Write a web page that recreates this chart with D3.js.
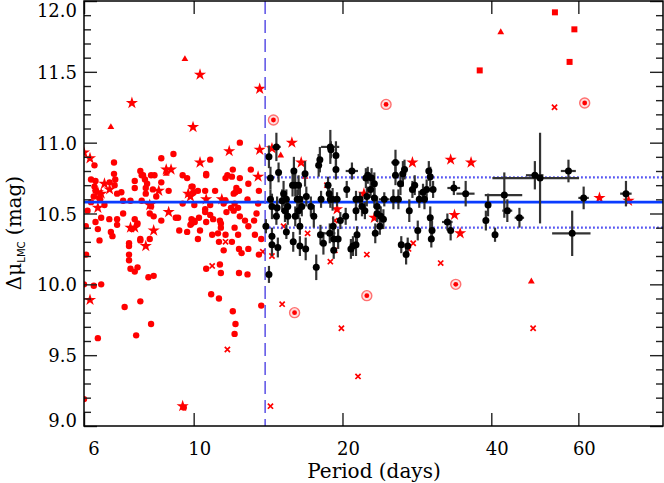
<!DOCTYPE html>
<html><head><meta charset="utf-8">
<script src="https://cdn.jsdelivr.net/npm/d3@7"></script>
<style>body{margin:0;background:#fff}svg{display:block}</style>
</head><body><svg id="c" width="664" height="483"></svg>
<script>
// ---------------- DATA ----------------
const periodTicks = [6, 10, 20, 40, 60];
const magTicks = [9.0, 9.5, 10.0, 10.5, 11.0, 11.5, 12.0];
const meanMag = 10.58;
const bandHi = 10.755;
const bandLo = 10.40;
const periodCut = 13.95;

// red filled dots [period, mag]
const redDots = [
[12.4,11.0],[10.8,10.88],[9.1,10.92],[8.6,10.89],[6.3,10.84],[6.9,10.86],[10.6,10.78],[12.0,10.81],[13.05,10.81],
[6.2,10.74],[6.33,10.73],[6.76,10.72],[6.9,10.78],[6.94,10.74],[6.92,10.70],[6.3,10.69],[6.33,10.66],[6.28,10.62],[6.44,10.61],[6.47,10.60],[6.2,10.58],[6.6,10.56],[7.0,10.64],[7.14,10.65],[7.2,10.59],[7.45,10.59],[7.6,10.73],[7.8,10.80],[7.85,10.77],[7.9,10.77],[7.97,10.74],[8.05,10.71],[8.2,10.77],[8.33,10.77],[7.6,10.68],[8.0,10.68],[8.0,10.64],[8.27,10.67],[8.6,10.72],[8.9,10.66],[8.4,10.62],[7.85,10.59],[8.2,10.55],
[6.1,10.52],[6.05,10.41],[6.33,10.44],[6.5,10.47],[6.75,10.46],[7.0,10.46],[7.2,10.50],[6.4,10.39],[6.8,10.37],[6.85,10.34],[6.45,10.31],[7.0,10.42],[7.6,10.46],[7.7,10.43],[7.5,10.39],[7.4,10.29],[7.4,10.27],[7.8,10.32],[7.8,10.31],[8.15,10.32],[8.15,10.50],[8.3,10.48],[8.6,10.45],[9.2,10.47],[6.06,10.21],[7.4,10.21],[7.4,10.17],[7.45,10.11],[7.7,10.12],[7.6,10.09],[8.1,10.05],[8.3,10.06],[6.0,10.0],[6.28,9.99],[6.5,10.0],[7.8,9.88],[7.25,9.84],[8.2,9.72],[7.65,9.64],[6.4,9.62],[6.0,9.19],[9.55,9.13],
[9.5,10.77],[9.7,10.75],[10.6,10.77],[11.7,10.77],[11.6,10.75],[11.95,10.76],[12.4,10.75],[9.9,10.69],[9.95,10.69],[12.9,10.71],[11.05,10.66],[10.55,10.66],[10.2,10.66],[10.0,10.65],[12.2,10.68],[12.15,10.65],[12.05,10.64],[12.35,10.66],[13.55,10.66],[11.6,10.59],[12.1,10.57],[12.85,10.60],[9.5,10.57],[10.03,10.56],[10.8,10.56],[11.5,10.57],[13.5,10.57],
[10.55,10.53],[10.55,10.51],[11.9,10.54],[12.05,10.52],[12.3,10.54],[11.65,10.51],[13.4,10.50],[10.8,10.49],[12.4,10.48],[9.3,10.47],[9.9,10.46],[10.0,10.45],[10.05,10.44],[9.9,10.43],[9.85,10.42],[10.25,10.47],[10.6,10.44],[10.95,10.46],[11.3,10.45],[11.35,10.43],[11.35,10.40],[12.7,10.45],[13.25,10.45],[12.9,10.41],[12.1,10.40],[9.35,10.38],[9.7,10.37],[10.3,10.38],[10.9,10.35],[11.2,10.36],[11.6,10.35],[12.3,10.35],[13.3,10.35],[13.7,10.32],[10.2,10.32],[11.25,10.30],[11.95,10.30],[11.5,10.24],[12.35,10.25],[12.5,10.22],[12.9,10.25],[13.55,10.21],[11.3,10.14],[10.6,10.11],[11.35,10.08],[12.35,10.08],[12.85,10.07],[10.85,9.93],[11.25,9.90],[13.7,9.85],[12.0,9.81],[12.15,9.72],[12.1,9.65]
];
// red stars
const redStars = [
[6.0,10.93],[6.17,10.89],[6.6,10.71],[6.76,10.67],[6.4,10.65],[6.5,10.64],[6.4,10.54],[8.15,10.56],[7.45,10.40],[7.6,10.40],[8.3,10.38],[8.0,10.27],[8.9,10.51],[8.5,10.66],[8.8,10.81],[9.0,10.81],[6.17,9.89],[9.5,9.14],
[11.8,10.94],[13.6,10.95],[10.3,10.86],[13.5,10.76],[9.75,10.64],[9.85,10.62],[10.6,10.60],[11.4,10.60],
[10.3,11.48],[7.5,11.28],[13.6,11.38],[9.97,11.11],[15.8,11.0],[14.4,10.96],[16.5,10.86],[19.5,10.53],[22.1,10.64],[27.7,10.86],[33.1,10.88],[36.4,10.86],[23.2,10.47],[33.7,10.49],[34.6,10.36],[66.2,10.61],[75.8,10.59]
];
// red triangles
const redTriangles = [[6.8,11.11],[9.6,11.59],[8.8,10.78],[15.0,10.91],[16.8,10.76],[41.8,11.78],[48.2,10.02]];
// red squares
const redSquares = [[53.8,11.92],[58.9,11.80],[57.6,11.57],[37.9,11.51]];
// red crosses
const redCrosses = [
[11.6,10.30],[10.9,10.13],[13.8,10.23],[11.7,9.54],[14.3,9.14],[18.6,10.70],[19.3,10.45],[15.2,10.41],[17.0,10.36],[19.3,10.24],[18.9,10.16],[14.4,10.20],[15.1,9.86],[19.9,9.69],[21.5,9.35],[31.6,10.15],[27.8,10.29],[27.2,10.25],[22.4,10.21],[53.7,11.25],[48.6,9.69]
];
// red circled dots
const redCircled = [[14.5,11.16],[24.5,11.27],[61.8,11.28],[16.0,9.80],[22.4,9.92],[33.9,10.0]];

// black points with errors [period, mag, magErr, periodErr]
const blackPts = [
[14.2,10.07,0.06,0],[14.0,10.41,0.05,0],[14.2,10.90,0.08,0],[14.7,10.97,0.10,0.3],[14.85,10.79,0.07,0],[14.3,10.75,0.08,0],[14.3,10.60,0.07,0],[14.4,10.55,0.09,0],[14.75,10.54,0.08,0],[14.4,10.34,0.06,0],[14.4,10.28,0.08,0],[14.8,10.26,0.07,0],[14.7,10.48,0.06,0],
[15.1,10.59,0.08,0],[15.2,10.64,0.09,0],[15.4,10.60,0.07,0],[15.4,10.37,0.05,0],[15.5,10.55,0.06,0],[15.3,10.52,0.08,0],[15.5,10.48,0.06,0],[15.9,10.30,0.07,0],[15.85,10.70,0.08,0],[15.95,10.80,0.10,0],[16.05,10.70,0.08,0],[16.2,10.60,0.07,0],[16.3,10.70,0.07,0],[16.3,10.52,0.06,0],[16.05,10.48,0.07,0],[16.4,10.60,0.09,0],[16.4,10.27,0.07,0],[16.4,10.41,0.06,0],[16.55,10.55,0.07,0],[16.85,10.25,0.08,0],[16.8,10.78,0.09,0],[16.9,10.62,0.07,0],
[17.26,10.55,0.07,0],[17.5,10.48,0.08,0],[17.7,10.12,0.09,0],[17.9,10.84,0.08,0],[18.0,10.88,0.09,0],[18.05,10.35,0.07,0],[18.1,10.60,0.06,0],[18.9,10.97,0.12,0.8],[18.95,10.95,0.06,0],[19.4,10.91,0.10,0],[19.4,10.81,0.07,0],[18.7,10.70,0.06,0],[18.8,10.64,0.07,0],[18.9,10.60,0.06,0],[19.1,10.60,0.08,0],[19.5,10.60,0.05,0.3],[18.85,10.36,0.07,0.5],[19.6,10.32,0.07,0],[19.2,10.32,0.08,0],[19.2,10.24,0.06,0],[18.3,10.29,0.08,0],[19.15,10.41,0.07,0],[19.8,10.45,0.06,0],
[20.3,10.48,0.06,0],[20.9,10.80,0.06,0.6],[20.4,10.67,0.06,0],[20.8,10.25,0.07,0],[21.0,10.27,0.07,0],[21.3,10.28,0.08,0],[21.4,10.35,0.06,0],[21.3,10.60,0.06,0],[21.3,10.52,0.07,0],[21.7,10.60,0.05,0],[21.9,10.55,0.07,0],[22.3,10.75,0.07,0],[22.5,10.77,0.06,0],[22.9,10.75,0.07,0],[23.2,10.71,0.08,0],[22.8,10.67,0.06,0],[22.4,10.62,0.07,0],[23.2,10.61,0.07,0],[22.2,10.52,0.06,0],[23.5,10.55,0.07,0],[23.5,10.50,0.06,0],[23.3,10.36,0.07,0],[23.9,10.48,0.07,0],[24.2,10.46,0.07,0],[24.3,10.60,0.05,0.6],[23.8,10.41,0.06,0],
[25.35,10.60,0.07,0],[25.6,10.86,0.09,0.5],[25.6,10.77,0.07,0],[25.95,10.60,0.07,0],[26.2,10.71,0.08,0],[26.3,10.28,0.06,0],[26.5,10.78,0.09,0],[26.7,10.81,0.07,0],[26.9,10.21,0.07,0],[27.1,10.27,0.06,0],[27.3,10.52,0.08,0],[27.7,10.67,0.06,0],[28.0,10.70,0.07,0],[28.4,10.38,0.07,0],[28.6,10.60,0.06,0],[29.1,10.65,0.06,0],[29.3,10.60,0.07,0],[29.6,10.67,0.07,0],[29.9,10.80,0.07,0],[30.1,10.76,0.07,0],[30.1,10.47,0.08,0],[30.35,10.38,0.07,0],[30.25,10.32,0.06,0],[30.5,10.67,0.06,0],
[32.6,10.44,0.06,0.8],[33.1,10.38,0.07,0],[33.6,10.68,0.05,1.0],[35.5,10.64,0.09,1.5],[39.4,10.56,0.08,0.5],[39.0,10.45,0.07,0],[40.7,10.35,0.05,0],[42.5,10.63,0.16,3.7],[43.1,10.52,0.08,1],[45.6,10.47,0.07,1],[49.0,10.77,0.10,2],[50.2,10.75,0.32,10],[57.3,10.80,0.08,2],[58.3,10.36,0.16,5.2],[61.5,10.61,0.08,1.5],[74.9,10.64,0.09,2]
];

// ---------------- CHART ----------------
const svg = d3.select("#c");
const L = 84, R = 663, T = 1, B = 426;
const x = d3.scaleLog().domain([6, 89]).range([L, R]);
const y = d3.scaleLinear().domain([9, 12]).range([B, T]);
const RED = "#ff0000";

svg.append("rect").attr("width", 664).attr("height", 483).attr("fill", "#fff");
svg.append("clipPath").attr("id", "clip").append("rect")
  .attr("x", L).attr("y", T).attr("width", R - L).attr("height", B - T);
const plot = svg.append("g").attr("clip-path", "url(#clip)");

// red markers
plot.append("g").selectAll("circle").data(redDots).join("circle")
  .attr("cx", d => x(d[0])).attr("cy", d => y(d[1])).attr("r", 3.2).attr("fill", RED);
plot.append("g").selectAll("path").data(redStars).join("path")
  .attr("d", d3.symbol(d3.symbolStar, 46))
  .attr("transform", d => `translate(${x(d[0])},${y(d[1])})`).attr("fill", RED);
plot.append("g").selectAll("path").data(redTriangles).join("path")
  .attr("d", d3.symbol(d3.symbolTriangle, 20))
  .attr("transform", d => `translate(${x(d[0])},${y(d[1])})`).attr("fill", RED);
plot.append("g").selectAll("path").data(redSquares).join("path")
  .attr("d", d3.symbol(d3.symbolSquare, 36))
  .attr("transform", d => `translate(${x(d[0])},${y(d[1])})`).attr("fill", RED);
plot.append("g").selectAll("path").data(redCrosses).join("path")
  .attr("d", "M-2.6,-2.6L2.6,2.6M-2.6,2.6L2.6,-2.6")
  .attr("transform", d => `translate(${x(d[0])},${y(d[1])})`)
  .attr("stroke", RED).attr("stroke-width", 1.7).attr("fill", "none");
const circ = plot.append("g").selectAll("g").data(redCircled).join("g")
  .attr("transform", d => `translate(${x(d[0])},${y(d[1])})`);
circ.append("circle").attr("r", 5).attr("fill", "#ffe0e0").attr("stroke", "#ff7070").attr("stroke-width", 1.4);
circ.append("circle").attr("r", 2.4).attr("fill", RED);

// reference lines
plot.append("line").attr("x1", L).attr("x2", R).attr("y1", y(meanMag)).attr("y2", y(meanMag))
  .attr("stroke", "#0a3cff").attr("stroke-width", 2.6);
[bandHi, bandLo].forEach(v => {
  plot.append("line").attr("x1", x(periodCut)).attr("x2", R).attr("y1", y(v)).attr("y2", y(v))
    .attr("stroke", "#3c3cf0").attr("stroke-width", 2.2).attr("stroke-dasharray", "1.6,2.4");
});
plot.append("line").attr("x1", x(periodCut)).attr("x2", x(periodCut)).attr("y1", T).attr("y2", B)
  .attr("stroke", "#5a50e6").attr("stroke-width", 1.5).attr("stroke-dasharray", "13,6");

// black points with error bars
const bg = plot.append("g");
bg.selectAll("line.v").data(blackPts).join("line").attr("class", "v")
  .attr("x1", d => x(d[0])).attr("x2", d => x(d[0]))
  .attr("y1", d => y(d[1] - d[2])).attr("y2", d => y(d[1] + d[2]))
  .attr("stroke", "#333").attr("stroke-width", 2.2);
bg.selectAll("line.h").data(blackPts.filter(d => d[3] > 0)).join("line").attr("class", "h")
  .attr("x1", d => x(d[0] - d[3])).attr("x2", d => x(d[0] + d[3]))
  .attr("y1", d => y(d[1])).attr("y2", d => y(d[1]))
  .attr("stroke", "#333").attr("stroke-width", 2.2);
bg.selectAll("circle").data(blackPts).join("circle")
  .attr("cx", d => x(d[0])).attr("cy", d => y(d[1])).attr("r", 3.5).attr("fill", "#000");

// axes
const minor = d3.range(90, 121).map(v => v / 10).filter(v => Math.abs(v * 2 - Math.round(v * 2)) > 1e-6);
function styleAxis(g) {
  g.select(".domain").remove();
  g.selectAll(".tick line").attr("stroke", "#222").attr("stroke-width", 1.4);
}
svg.append("g").attr("transform", `translate(${L},0)`)
  .call(d3.axisLeft(y).tickValues(minor).tickSize(-7).tickFormat("")).call(styleAxis);
svg.append("g").attr("transform", `translate(${R},0)`)
  .call(d3.axisRight(y).tickValues(minor).tickSize(-7).tickFormat("")).call(styleAxis);
svg.append("g").attr("transform", `translate(${R},0)`)
  .call(d3.axisRight(y).tickValues(magTicks).tickSize(-13).tickFormat("")).call(styleAxis);
const yl = svg.append("g").attr("transform", `translate(${L},0)`)
  .call(d3.axisLeft(y).tickValues(magTicks).tickSize(-13).tickPadding(7).tickFormat(d3.format(".1f")))
  .call(styleAxis);
yl.selectAll("text").attr("font-family", "DejaVu Serif").attr("font-size", 18).attr("fill", "#000")
  .attr("dy", null).attr("dominant-baseline", null)
  .attr("y", d => { const yy = y(d) + 6.5; return Math.max(16, Math.min(426, yy)) - y(d); });

svg.append("g").attr("transform", `translate(0,${B})`)
  .call(d3.axisBottom(x).tickValues(periodTicks).tickSize(-13).tickFormat("")).call(styleAxis);
svg.append("g").attr("transform", `translate(0,${T})`)
  .call(d3.axisTop(x).tickValues(periodTicks).tickSize(-13).tickFormat("")).call(styleAxis);
svg.append("g").selectAll("text").data(periodTicks).join("text")
  .attr("x", d => x(d) + (d < 10 ? 10 : 6)).attr("y", 455)
  .attr("text-anchor", "middle").attr("font-family", "DejaVu Serif").attr("font-size", 18)
  .text(d => d);

// frame
svg.append("rect").attr("x", L).attr("y", T).attr("width", R - L).attr("height", B - T)
  .attr("fill", "none").attr("stroke", "#000").attr("stroke-width", 1.5);

// titles
svg.append("text").attr("x", 374).attr("y", 478).attr("text-anchor", "middle")
  .attr("font-family", "DejaVu Serif").attr("font-size", 20).text("Period (days)");
const yt = svg.append("text").attr("transform", "translate(21,233) rotate(-90)")
  .attr("text-anchor", "middle").attr("font-family", "DejaVu Serif").attr("font-size", 20);
yt.append("tspan").text("Δμ");
yt.append("tspan").attr("font-size", 10).attr("font-family", "DejaVu Sans").attr("dy", 4).text("LMC");
yt.append("tspan").attr("dy", -4).text(" (mag)");
</script>
</body></html>
